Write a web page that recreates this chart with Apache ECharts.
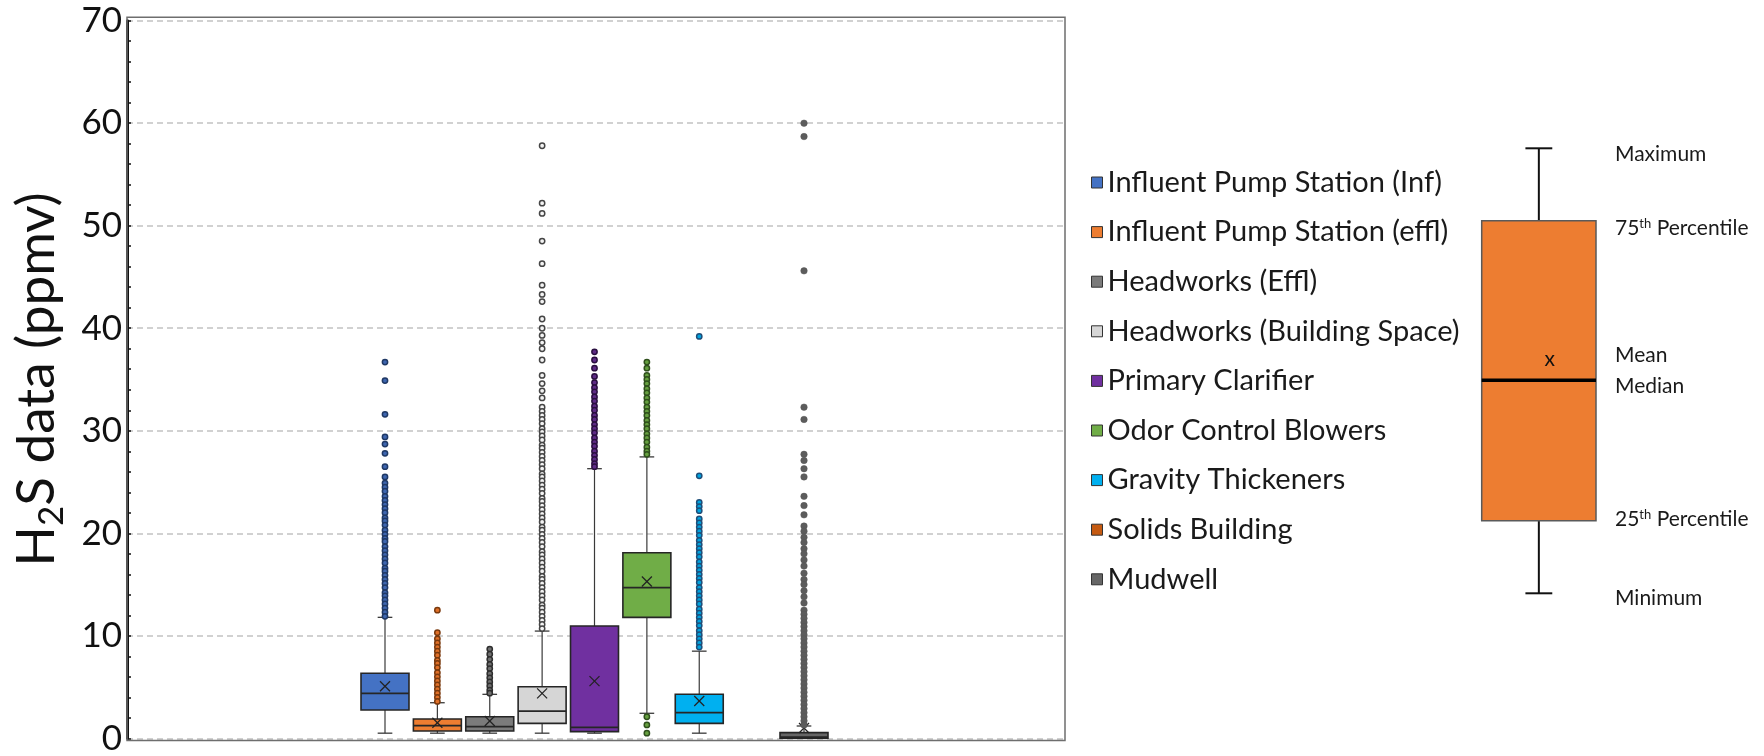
<!DOCTYPE html>
<html>
<head>
<meta charset="utf-8">
<script src="https://cdn.jsdelivr.net/npm/echarts@6/dist/echarts.min.js"></script>
<style>
  html, body { margin: 0; padding: 0; background: #ffffff; }
  #chart { width: 1764px; height: 756px; }
</style>
</head>
<body>
<div id="chart"></div>
<script>
// Sampling locations, in plotting order
const stations = [
  'Influent Pump Station (Inf)',
  'Influent Pump Station (effl)',
  'Headworks (Effl)',
  'Headworks (Building Space)',
  'Primary Clarifier',
  'Odor Control Blowers',
  'Gravity Thickeners',
  'Solids Building',
  'Mudwell'
];

// Box statistics per location (ppmv): [min, Q1, median, Q3, max, mean]; null = no readings
const boxStats = [
  [0.5, 2.76, 4.39, 6.34, 11.8, 5.07],
  [0.5, 0.71, 1.23, 1.88, 3.47, 1.52],
  [0.5, 0.71, 1.13, 2.10, 4.29, 1.69],
  [0.5, 1.46, 2.66, 5.03, 10.46, 4.38],
  [0.5, 0.65, 1.07, 10.95, 26.3, 5.58],
  [2.44, 11.8, 14.7, 18.1, 27.45, 15.3],
  [0.5, 1.46, 2.50, 4.29, 8.5, 3.64],
  null,
  [0.0, 0.0, 0.1, 0.55, 1.2, 1.0]
];

// Readings beyond the whiskers (ppmv)
const outInf = [36.7, 34.9, 31.6, 29.4, 28.7, 27.8, 26.5, 25.5, 24.9, 24.5, 24.1, 23.6, 23.2, 22.8, 22.4,
  22.0, 21.5, 21.2, 20.8, 20.3, 19.9, 19.5, 19.2, 18.7, 18.3, 17.9, 17.5, 17.1, 16.6, 16.3, 15.9, 15.5,
  15.1, 14.7, 14.2, 13.9, 13.5, 13.1, 12.7, 12.3, 11.9];
const outEffl = [12.5, 10.3, 9.7, 9.3, 8.9, 8.5, 8.1, 7.6, 7.3, 6.9, 6.4, 6.0, 5.6, 5.2, 4.8, 4.4, 4.0, 3.6];
const outHwEffl = [8.7, 8.2, 7.7, 7.2, 6.8, 6.3, 5.9, 5.5, 5.1, 4.7, 4.4];
const outHwBldg = [57.8, 52.2, 51.2, 48.5, 46.3, 44.2, 43.3, 42.6, 40.9, 40.0, 39.3, 38.6, 38.0, 36.9, 35.4,
  34.6, 33.9, 33.2, 32.3, 31.9, 31.5, 31.1, 30.7, 30.2, 29.9, 29.5, 29.1, 28.6, 28.3, 27.9, 27.5, 27.1,
  26.7, 26.3, 25.8, 25.5, 25.1, 24.7, 24.3, 23.9, 23.4, 23.1, 22.7, 22.3, 21.9, 21.5, 21.1, 20.6, 20.3,
  19.9, 19.5, 19.1, 18.7, 18.2, 17.9, 17.5, 17.1, 16.7, 16.3, 15.8, 15.5, 15.1, 14.7, 14.3, 13.9, 13.5,
  13.0, 12.7, 12.3, 11.9, 11.5, 11.1, 10.7];
const outClarifier = [37.7, 36.9, 36.1, 35.3, 34.7, 34.2, 33.8, 33.3, 32.9, 32.4, 32.0, 31.5, 31.1, 30.6,
  30.2, 29.8, 29.3, 28.9, 28.5, 28.0, 27.6, 27.2, 26.8, 26.5];
const outBlowers = [36.7, 36.1, 35.4, 35.0, 34.6, 34.1, 33.7, 33.2, 32.8, 32.3, 31.9, 31.5, 31.0, 30.6,
  30.2, 29.7, 29.3, 28.9, 28.4, 28.0, 27.7, 2.1, 1.3, 0.5];
const outThickeners = [39.2, 25.6, 23.0, 22.6, 22.2, 21.4, 21.0, 20.6, 20.2, 19.8, 19.3, 18.9, 18.5, 18.1,
  17.7, 17.2, 16.8, 16.4, 16.0, 15.6, 15.2, 14.7, 14.3, 13.9, 13.5, 13.1, 12.6, 12.2, 11.8, 11.4, 11.0,
  10.5, 10.1, 9.7, 9.3, 8.9];
const outSolids = [];
const outMudwell = [60.0, 58.7, 45.6, 32.3, 31.1, 27.7, 27.1, 26.3, 25.5, 23.6, 22.7, 21.8, 20.7, 20.2,
  19.6, 19.1, 18.5, 18.0, 17.4, 16.8, 16.1, 15.5, 15.0, 14.4, 13.8, 13.2, 12.5, 12.1, 11.7, 11.3, 10.9,
  10.5, 10.1, 9.7, 9.3, 8.9, 8.5, 8.1, 7.7, 7.3, 6.9, 6.5, 6.1, 5.7, 5.3, 4.9, 4.5, 4.1, 3.7, 3.3, 2.9,
  2.5, 2.1, 1.7, 1.3];
const outliers = [outInf, outEffl, outHwEffl, outHwBldg, outClarifier, outBlowers, outThickeners, outSolids, outMudwell];

// Y axis ticks
const yTicks = { min: 0, max: 70, step: 10 };

// Explanatory box on the right: [min, Q1, median, Q3, max, mean] on a 0-100 scale
const keyStats = [0, 16.3, 47.9, 83.7, 100, 52.6];
const keyLabels = ['Maximum', '{n|75}{sup|th}{n| Percentile}', 'Mean', 'Median', '{n|25}{sup|th}{n| Percentile}', 'Minimum'];
const keyLabelStat = [4, 3, 5, 2, 1, 0];

// ---- styling ----
const fillColors = ['#4472C4', '#ED7D31', '#7B7B7B', '#D6D6D6', '#7030A0', '#70AD47', '#00B0F0', '#C55A11', '#666666'];
const dotFill = ['#3E66B0', '#E07028', '#707070', '#F4F4F4', '#5E2A86', '#66A040', '#00A4E0', '#C55A11', '#5C5C5C'];
const dotEdge = ['#1F3864', '#7A3A0E', '#2E2E2E', '#454545', '#2A0F40', '#2F4F1C', '#1F4E79', '#5A2A08', '#555555'];
const KEY_LABEL_NUDGE = [6, 7, -4, 6, -2, 5];
const FONT = 'Lato';

const PLOT = { left: 127, right: 1065, top: 20.7, bottom: 738.3 };
const SLOT_CENTER0 = 385, SLOT = 52.375;

function seg(x1, y1, x2, y2, stroke, lineWidth) {
  return { type: 'line', shape: { x1, y1, x2, y2 }, style: { stroke, lineWidth } };
}

function renderStationBox(params, api) {
  const idx = api.value(0);
  const s = [1, 2, 3, 4, 5, 6].map(d => api.value(d));
  const cx = api.coord([idx, 0])[0];
  const slot = api.size([1, 0])[0];
  const bw = slot * 0.916, cw = slot * 0.28;
  const py = v => api.coord([idx, v])[1];
  const fill = api.visual('color');
  const x0 = cx - bw / 2;
  const yMax = py(s[4]), yQ3 = py(s[3]), yMed = py(s[2]), yQ1 = py(s[1]), yMin = py(s[0]), yMean = py(s[5]);
  const m = 5;
  return {
    type: 'group',
    children: [
      seg(cx, yMax, cx, yQ3, '#3a3a3a', 1.2),
      seg(cx, yQ1, cx, yMin, '#3a3a3a', 1.2),
      seg(cx - cw / 2, yMax, cx + cw / 2, yMax, '#3a3a3a', 1.3),
      seg(cx - cw / 2, yMin, cx + cw / 2, yMin, '#3a3a3a', 1.3),
      { type: 'rect', shape: { x: x0, y: yQ3, width: bw, height: Math.max(yQ1 - yQ3, 1) },
        style: { fill, stroke: '#262626', lineWidth: 1.6 } },
      seg(x0, yMed, x0 + bw, yMed, '#262626', 1.8),
      seg(cx - m, yMean - m, cx + m, yMean + m, '#222222', 1.3),
      seg(cx - m, yMean + m, cx + m, yMean - m, '#222222', 1.3)
    ]
  };
}

const keyRich = {
  n: { fontFamily: FONT, fontSize: 21, color: '#1a1a1a' },
  sup: { fontFamily: FONT, fontSize: 13, color: '#1a1a1a', verticalAlign: 'top' }
};

function renderKeyBox(params, api) {
  const s = [1, 2, 3, 4, 5, 6].map(d => api.value(d));
  const cx = api.coord([0, 0])[0];
  const bw = api.size([1, 0])[0];
  const cw = bw * 0.235;
  const py = v => api.coord([0, v])[1];
  const fill = api.visual('color');
  const xr = cx + bw / 2;
  const children = [
    seg(cx, py(s[4]), cx, py(s[3]), '#111', 2),
    seg(cx, py(s[1]), cx, py(s[0]), '#111', 2),
    seg(cx - cw / 2, py(s[4]), cx + cw / 2, py(s[4]), '#111', 2),
    seg(cx - cw / 2, py(s[0]), cx + cw / 2, py(s[0]), '#111', 2),
    { type: 'rect', shape: { x: cx - bw / 2, y: py(s[3]), width: bw, height: py(s[1]) - py(s[3]) },
      style: { fill, stroke: '#5a5a5a', lineWidth: 1.5 } },
    seg(cx - bw / 2, py(s[2]), xr, py(s[2]), '#000', 3.5),
    { type: 'text', x: cx + 11, y: py(s[5]),
      style: { text: 'x', fontFamily: FONT, fontSize: 21, fill: '#111', align: 'center', verticalAlign: 'middle' } }
  ];
  keyLabels.forEach((t, k) => {
    children.push({
      type: 'text', x: xr + 19, y: py(s[keyLabelStat[k]]) + KEY_LABEL_NUDGE[k],
      style: { text: t, rich: keyRich, fontFamily: FONT, fontSize: 21, fill: '#1a1a1a', align: 'left', verticalAlign: 'middle' }
    });
  });
  return { type: 'group', children };
}

const boxSeries = stations.map((name, i) => ({
  type: 'custom', name, xAxisIndex: 0, yAxisIndex: 0,
  itemStyle: { color: fillColors[i] },
  renderItem: renderStationBox,
  encode: { x: 0, y: [1, 2, 3, 4, 5, 6] },
  data: boxStats[i] ? [[i].concat(boxStats[i])] : [],
  z: 2, silent: true
}));

const outlierSeries = stations.map((name, i) => ({
  type: 'scatter', name, xAxisIndex: 0, yAxisIndex: 0,
  symbol: 'circle', symbolSize: i === 8 ? 6.5 : 5.3,
  itemStyle: { color: dotFill[i], borderColor: dotEdge[i], borderWidth: i === 8 ? 0.5 : 1.5, opacity: 1 },
  data: outliers[i].map(v => [i, v]),
  z: 3, silent: true
}));

const keySeries = {
  type: 'custom', name: 'key', xAxisIndex: 1, yAxisIndex: 1,
  itemStyle: { color: '#ED7D31' },
  renderItem: renderKeyBox,
  encode: { x: 0, y: [1, 2, 3, 4, 5, 6] },
  data: [[0].concat(keyStats)],
  silent: true
};

const chart = echarts.init(document.getElementById('chart'), null, { renderer: 'canvas' });

chart.setOption({
  animation: false,
  backgroundColor: '#ffffff',
  grid: [
    { left: PLOT.left, top: PLOT.top, width: PLOT.right - PLOT.left, height: PLOT.bottom - PLOT.top },
    { left: 1481.7, top: 148.3, width: 114.3, height: 445 }
  ],
  xAxis: [
    { type: 'value', gridIndex: 0, show: false,
      min: (PLOT.left - SLOT_CENTER0) / SLOT, max: (PLOT.right - SLOT_CENTER0) / SLOT },
    { type: 'value', gridIndex: 1, show: false, min: -0.5, max: 0.5 }
  ],
  yAxis: [
    {
      type: 'value', gridIndex: 0, min: yTicks.min, max: yTicks.max, interval: yTicks.step,
      axisLine: { show: true, onZero: false, lineStyle: { color: '#111', width: 3 } },
      axisTick: { show: true, inside: true, length: 4, lineStyle: { color: '#111', width: 1.5 } },
      minorTick: { show: true, splitNumber: 5, length: 4, lineStyle: { color: '#111', width: 1.5 } },
      axisLabel: { fontFamily: FONT, fontSize: 35, color: '#111', margin: 5 },
      splitLine: { show: true, lineStyle: { color: '#c2c2c2', width: 1.5, type: [6, 4] } },
      name: '{m|H}{s|2}{m|S data (ppmv)}',
      nameLocation: 'middle',
      nameGap: 58,
      nameTextStyle: {
        fontFamily: FONT, fontSize: 53, color: '#111',
        rich: {
          m: { fontFamily: FONT, fontSize: 53, color: '#111', padding: [0, 0, 6, 0] },
          s: { fontFamily: FONT, fontSize: 35, color: '#111', verticalAlign: 'bottom' }
        }
      }
    },
    { type: 'value', gridIndex: 1, show: false, min: 0, max: 100, splitLine: { show: false } }
  ],
  legend: {
    orient: 'vertical', left: 1086, top: 162.5,
    icon: 'rect', itemWidth: 11, itemHeight: 11, itemGap: 19.6,
    selectedMode: false,
    data: stations,
    itemStyle: { borderColor: '#333', borderWidth: 1 },
    textStyle: { fontFamily: FONT, fontSize: 29, color: '#1a1a1a', lineHeight: 30 }
  },
  graphic: [
    { type: 'rect', silent: true, z: 1,
      shape: { x: PLOT.left, y: PLOT.top - 3.4, width: PLOT.right - PLOT.left, height: PLOT.bottom - PLOT.top + 5.6 },
      style: { fill: null, stroke: '#6e6e6e', lineWidth: 1.5 } }
  ],
  series: boxSeries.concat(outlierSeries, [keySeries])
});
</script>
</body>
</html>
